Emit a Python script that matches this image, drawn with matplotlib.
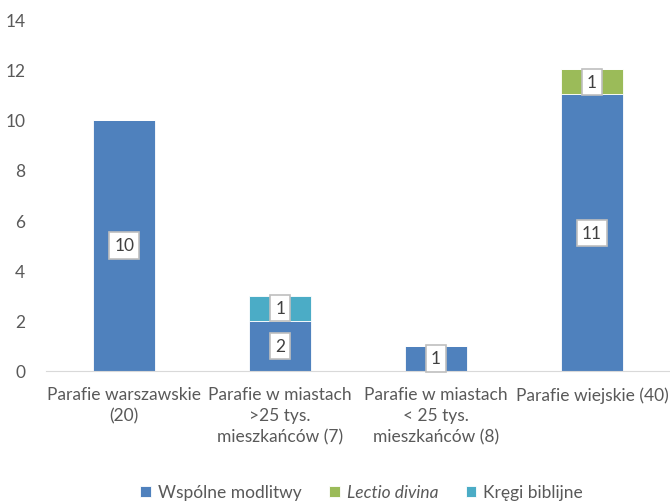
import matplotlib.pyplot as plt
import numpy as np

categories = ['Parafie warszawskie\n(20)', 'Parafie w miastach\n>25 tys.\nmieszkańców (7)',
              'Parafie w miastach\n< 25 tys.\nmieszkańców (8)', 'Parafie wiejskie (40)']
series_names = ['Wspólne modlitwy', 'Lectio divina', 'Kręgi biblijne']
wspolne = [10, 2, 1, 11]
lectio = [0, 0, 0, 1]
kregi = [0, 1, 0, 0]
colors = ['#4F81BD', '#9BBB59', '#4BACC6']

plt.rcParams['font.family'] = ['Lato', 'DejaVu Sans']
text_color = '#595959'
fs = 12.5

fig = plt.figure(figsize=(6.7, 5.02), dpi=100)
ax = fig.add_axes([0.069, 0.259, 0.931, 0.701])

x = np.arange(len(categories))
bottom = np.zeros(len(categories))
handles = []
for name, vals, col in zip(series_names, [wspolne, lectio, kregi], colors):
    vals = np.array(vals, dtype=float)
    bars = ax.bar(x, vals, 0.4, bottom=bottom, color=col, edgecolor='white', linewidth=0.6, label=name)
    handles.append(bars)
    for xi, v, b in zip(x, vals, bottom):
        if v > 0:
            ax.text(xi, b + v / 2, f'{int(v)}', ha='center', va='center', fontsize=fs, color='#404040',
                    bbox=dict(boxstyle='square,pad=0.3', facecolor='white', edgecolor='#BFBFBF', linewidth=1.2))
    bottom += vals

ax.set_xlim(-0.5, 3.5)
ax.set_ylim(0, 14)
ax.set_yticks(range(0, 15, 2))
ax.set_xticks(x)
ax.set_xticklabels(categories, fontsize=fs, color=text_color, linespacing=1.4)
ax.tick_params(axis='y', labelsize=fs, labelcolor=text_color, length=0, pad=15)
ax.tick_params(axis='x', length=0, pad=11)
for s in ['top', 'right', 'left']:
    ax.spines[s].set_visible(False)
ax.spines['bottom'].set_color('#D9D9D9')

leg = fig.legend(handles=handles, labels=series_names, loc='lower center', bbox_to_anchor=(0.54, -0.03),
                 ncol=3, frameon=False, fontsize=fs, handlelength=0.6, handleheight=0.6,
                 handletextpad=0.4, columnspacing=1.6)
for t in leg.get_texts():
    t.set_color(text_color)
leg.get_texts()[1].set_style('italic')

fig.savefig('out.png', dpi=100)
